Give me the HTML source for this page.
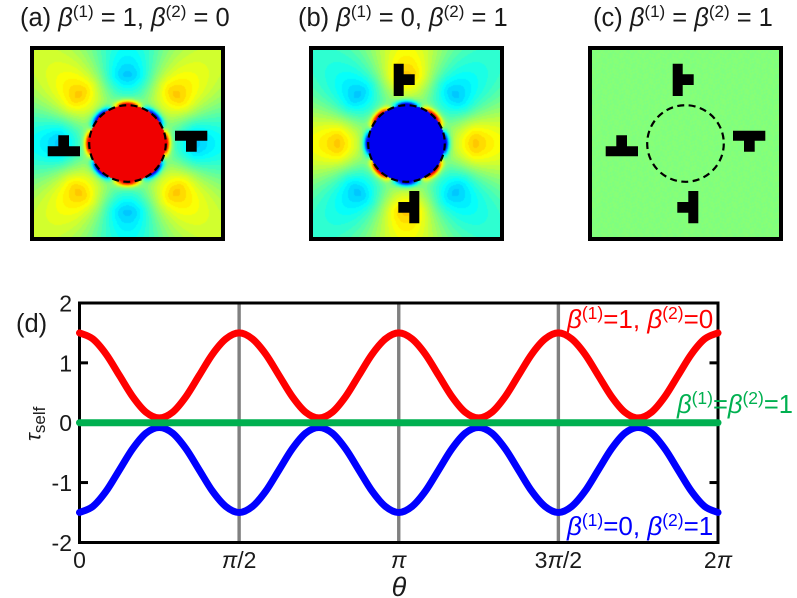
<!DOCTYPE html>
<html lang="en">
<head>
<meta charset="utf-8">
<title>Self torque panels</title>
<style>
html,body{margin:0;padding:0;background:#fff;width:797px;height:598px;overflow:hidden}
#figure{position:relative;width:797px;height:598px;font-family:"Liberation Sans",sans-serif}
canvas{position:absolute;display:block}
svg{position:absolute;left:0;top:0}
text{font-family:"Liberation Sans",sans-serif;fill:#1a1a1a;white-space:pre}
.i{font-style:italic}
</style>
</head>
<body>
<div id="figure">
<canvas id="field-a" width="187" height="187" style="left:34px;top:50px"></canvas>
<canvas id="field-b" width="187" height="187" style="left:313px;top:50px"></canvas>
<canvas id="field-c" width="187" height="187" style="left:592px;top:50px"></canvas>
<svg id="overlay" width="797" height="598" viewBox="0 0 797 598">
  <g font-size="25.5">
    <text x="20" y="26">(a) <tspan class="i">β</tspan><tspan font-size="17" dy="-9">(1)</tspan><tspan dy="9"> = 1, </tspan><tspan class="i">β</tspan><tspan font-size="17" dy="-9">(2)</tspan><tspan dy="9"> = 0</tspan></text>
    <text x="298" y="26">(b) <tspan class="i">β</tspan><tspan font-size="17" dy="-9">(1)</tspan><tspan dy="9"> = 0, </tspan><tspan class="i">β</tspan><tspan font-size="17" dy="-9">(2)</tspan><tspan dy="9"> = 1</tspan></text>
    <text x="593" y="26">(c) <tspan class="i">β</tspan><tspan font-size="17" dy="-9">(1)</tspan><tspan dy="9"> = </tspan><tspan class="i">β</tspan><tspan font-size="17" dy="-9">(2)</tspan><tspan dy="9"> = 1</tspan></text>
  </g>
  <g id="panel-marks"></g>
  <g id="grid-lines"></g>
  <rect x="79.5" y="303" width="638.5" height="239.5" fill="none" stroke="#000" stroke-width="3"></rect>
  <g id="series"></g>
  <g id="ticks"></g>
  <g id="tick-labels" font-size="23"></g>
  <text x="16" y="332" font-size="25.5">(d)</text>
  <text x="399" y="596" font-size="27" text-anchor="middle" class="i">θ</text>
  <text transform="translate(40.5,441) rotate(-90)" font-size="21"><tspan class="i">τ</tspan><tspan font-size="17" dy="4.5">self</tspan></text>
  <text x="567" y="328" font-size="26" style="fill:#ff0000"><tspan class="i">β</tspan><tspan font-size="17.5" dy="-9">(1)</tspan><tspan dy="9">=1, </tspan><tspan class="i">β</tspan><tspan font-size="17.5" dy="-9">(2)</tspan><tspan dy="9">=0</tspan></text>
  <text x="677" y="413" font-size="25.5" style="fill:#00b050"><tspan class="i">β</tspan><tspan font-size="17.5" dy="-9">(1)</tspan><tspan dy="9">=</tspan><tspan class="i">β</tspan><tspan font-size="17.5" dy="-9">(2)</tspan><tspan dy="9">=1</tspan></text>
  <text x="567" y="535" font-size="26" style="fill:#0000ff"><tspan class="i">β</tspan><tspan font-size="17.5" dy="-9">(1)</tspan><tspan dy="9">=0, </tspan><tspan class="i">β</tspan><tspan font-size="17.5" dy="-9">(2)</tspan><tspan dy="9">=1</tspan></text>
</svg>
</div>
<script>
// --- line chart data ---
const thetaDegrees = [0,7.5,15,22.5,30,37.5,45,52.5,60,67.5,75,82.5,90,97.5,105,112.5,120,127.5,135,142.5,150,157.5,165,172.5,180,187.5,195,202.5,210,217.5,225,232.5,240,247.5,255,262.5,270,277.5,285,292.5,300,307.5,315,322.5,330,337.5,345,352.5,360];
const tauRed = [1.5,1.4,1.145,0.79,0.435,0.175,0.08,0.175,0.435,0.79,1.145,1.4,1.5,1.4,1.145,0.79,0.435,0.175,0.08,0.175,0.435,0.79,1.145,1.4,1.5,1.4,1.145,0.79,0.435,0.175,0.08,0.175,0.435,0.79,1.145,1.4,1.5,1.4,1.145,0.79,0.435,0.175,0.08,0.175,0.435,0.79,1.145,1.4,1.5];
const tauBlue = [-1.5,-1.4,-1.145,-0.79,-0.435,-0.175,-0.08,-0.175,-0.435,-0.79,-1.145,-1.4,-1.5,-1.4,-1.145,-0.79,-0.435,-0.175,-0.08,-0.175,-0.435,-0.79,-1.145,-1.4,-1.5,-1.4,-1.145,-0.79,-0.435,-0.175,-0.08,-0.175,-0.435,-0.79,-1.145,-1.4,-1.5,-1.4,-1.145,-0.79,-0.435,-0.175,-0.08,-0.175,-0.435,-0.79,-1.145,-1.4,-1.5];
const tauGreen = [0,0,0,0,0,0,0,0,0,0,0,0,0,0,0,0,0,0,0,0,0,0,0,0,0,0,0,0,0,0,0,0,0,0,0,0,0,0,0,0,0,0,0,0,0,0,0,0,0];
const yTickValues = [2,1,0,-1,-2];
const yTickLabels = ["2","1","0","-1","-2"];
const xTickDegrees = [0,90,180,270,360];
const xTickLabels = ["0","π/2","π","3π/2","2π"];

// --- field map data ---
const fieldRadius = [38,40,41.5,43,45,48,52,56,60,64,68,72,80,90,100,115,137,150];
const fieldProfile = [-0.45,-0.36,-0.22,-0.1,0.0,0.055,0.09,0.115,0.14,0.16,0.175,0.172,0.15,0.125,0.105,0.085,0.065,0.055];
const panelSigns = [1,-1,0];
const panelIds = ["field-a","field-b","field-c"];
const panelCentersX = [127.5,406.5,685.5];
const coreValue = 0.39;

const SVGNS = "http://www.w3.org/2000/svg";
const xOf = function (deg) { return 79.5 + deg / 360 * 638.5; };
const yOf = function (v) { return 422.7 - v * 59.85; };

function jet(v) {
  v = Math.max(0, Math.min(1, v));
  const f = function (x) { return Math.max(0, Math.min(1, x)); };
  return [f(Math.min(4 * v - 1.5, 4.5 - 4 * v)), f(Math.min(4 * v - 0.5, 3.5 - 4 * v)), f(Math.min(4 * v + 0.5, 2.5 - 4 * v))];
}
function profileAt(r) {
  const last = fieldRadius.length - 1;
  for (let i = 1; i <= last; i++) {
    if (r <= fieldRadius[i]) {
      const r0 = fieldRadius[i - 1], r1 = fieldRadius[i];
      const g0 = fieldProfile[i - 1], g1 = fieldProfile[i];
      const h = r1 - r0, t = (r - r0) / h;
      const im = Math.max(0, i - 2), ip = Math.min(last, i + 1);
      const m0 = (g1 - fieldProfile[im]) / (r1 - fieldRadius[im]);
      const m1 = (fieldProfile[ip] - g0) / (fieldRadius[ip] - r0);
      const t2 = t * t, t3 = t2 * t;
      return (2 * t3 - 3 * t2 + 1) * g0 + (t3 - 2 * t2 + t) * h * m0 + (-2 * t3 + 3 * t2) * g1 + (t3 - t2) * h * m1;
    }
  }
  return fieldProfile[last];
}
panelIds.forEach(function (id, p) {
  const cv = document.getElementById(id);
  const ctx = cv.getContext("2d");
  const img = ctx.createImageData(187, 187);
  const sign = panelSigns[p];
  for (let y = 0; y < 187; y++) {
    for (let x = 0; x < 187; x++) {
      const dx = x - 93, dy = y - 93;
      const r = Math.sqrt(dx * dx + dy * dy);
      let u;
      if (r < 38.3) {
        u = coreValue;
      } else {
        u = -Math.cos(4 * Math.atan2(dy, dx)) * profileAt(r);
        u = Math.round(u / 0.02) * 0.02;
      }
      let v = 0.5 + sign * u;
      if (sign === 0) {
        v = 0.504 + 0.009 * Math.sin(x * 1.37 + 2 * Math.sin(y * 0.61)) * Math.cos(y * 1.13 + 2 * Math.sin(x * 0.53));
      }
      const c = jet(v);
      const k = (y * 187 + x) * 4;
      img.data[k] = c[0] * 255;
      img.data[k + 1] = c[1] * 255;
      img.data[k + 2] = c[2] * 255;
      img.data[k + 3] = 255;
    }
  }
  ctx.putImageData(img, 0, 0);
});

// panel frames, circles and T-shaped marks
const marks = document.getElementById("panel-marks");
const tee = "M47.5 -12.8H79.8V-2.8H69.2V8.2H58.5V-2.8H47.5Z";
panelCentersX.forEach(function (cx) {
  const frame = document.createElementNS(SVGNS, "rect");
  
  
  frame.setAttribute("x", cx - 95.5);
  frame.setAttribute("y", 48);
  frame.setAttribute("width", 191);
  frame.setAttribute("height", 191);
  frame.setAttribute("fill", "none");
  frame.setAttribute("stroke", "#000");
  frame.setAttribute("stroke-width", "4");
  marks.appendChild(frame);
  const circle = document.createElementNS(SVGNS, "circle");
  
  
  circle.setAttribute("cx", cx);
  circle.setAttribute("cy", 143.5);
  circle.setAttribute("r", 38.3);
  circle.setAttribute("fill", "none");
  circle.setAttribute("stroke", "#000");
  circle.setAttribute("stroke-width", "2.2");
  circle.setAttribute("stroke-dasharray", "7 4.46");
  marks.appendChild(circle);
});
const teePlacements = [[0,0],[0,180],[1,-90],[1,90],[2,0],[2,90],[2,180],[2,-90]];
teePlacements.forEach(function (tp) {
  const t = document.createElementNS(SVGNS, "path");
  
  
  t.setAttribute("d", tee);
  t.setAttribute("fill", "#000");
  t.setAttribute("transform", "translate(" + panelCentersX[tp[0]] + ",143.5) rotate(" + tp[1] + ")");
  marks.appendChild(t);
});

// grid lines
const grid = document.getElementById("grid-lines");
xTickDegrees.slice(1, -1).forEach(function (d) {
  const l = document.createElementNS(SVGNS, "line");
  
  
  l.setAttribute("x1", xOf(d));
  l.setAttribute("x2", xOf(d));
  l.setAttribute("y1", yOf(2));
  l.setAttribute("y2", yOf(-2));
  l.setAttribute("stroke", "#808080");
  l.setAttribute("stroke-width", "3.4");
  grid.appendChild(l);
});

// series
function curvePath(values) {
  const pts = values.map(function (v, i) { return [xOf(thetaDegrees[i]), yOf(v)]; });
  let d = "M" + pts[0][0].toFixed(2) + " " + pts[0][1].toFixed(2);
  for (let i = 0; i < pts.length - 1; i++) {
    const p0 = pts[Math.max(0, i - 1)], p1 = pts[i], p2 = pts[i + 1], p3 = pts[Math.min(pts.length - 1, i + 2)];
    d += "C" + (p1[0] + (p2[0] - p0[0]) / 6).toFixed(2) + " " + (p1[1] + (p2[1] - p0[1]) / 6).toFixed(2) + " " +
      (p2[0] - (p3[0] - p1[0]) / 6).toFixed(2) + " " + (p2[1] - (p3[1] - p1[1]) / 6).toFixed(2) + " " +
      p2[0].toFixed(2) + " " + p2[1].toFixed(2);
  }
  return d;
}
const seriesGroup = document.getElementById("series");
const redLine = document.createElementNS(SVGNS, "path");


redLine.setAttribute("d", curvePath(tauRed));
redLine.setAttribute("stroke", "#ff0000");
const blueLine = document.createElementNS(SVGNS, "path");


blueLine.setAttribute("d", curvePath(tauBlue));
blueLine.setAttribute("stroke", "#0000ff");
const greenLine = document.createElementNS(SVGNS, "path");


greenLine.setAttribute("d", curvePath(tauGreen));
greenLine.setAttribute("stroke", "#00b050");
[redLine, blueLine, greenLine].forEach(function (el) {
  el.setAttribute("fill", "none");
  el.setAttribute("stroke-width", "7");
  el.setAttribute("stroke-linecap", "round");
  el.setAttribute("stroke-linejoin", "round");
  seriesGroup.appendChild(el);
});

// ticks and labels
const ticks = document.getElementById("ticks");
const labels = document.getElementById("tick-labels");
yTickValues.forEach(function (v, i) {
  if (Math.abs(v) === 1) {
    [[79.5, 88], [718, 709.5]].forEach(function (xs) {
      const t = document.createElementNS(SVGNS, "line");
      
      
      t.setAttribute("x1", xs[0]);
      t.setAttribute("x2", xs[1]);
      t.setAttribute("y1", yOf(v));
      t.setAttribute("y2", yOf(v));
      t.setAttribute("stroke", "#000");
      t.setAttribute("stroke-width", "3");
      ticks.appendChild(t);
    });
  }
  const txt = document.createElementNS(SVGNS, "text");
  
  
  txt.setAttribute("x", 72);
  txt.setAttribute("y", yOf(v) + 8.5);
  txt.setAttribute("text-anchor", "end");
  txt.textContent = yTickLabels[i];
  labels.appendChild(txt);
});
xTickDegrees.forEach(function (d, i) {
  const txt = document.createElementNS(SVGNS, "text");
  
  
  txt.setAttribute("x", xOf(d));
  txt.setAttribute("y", 568);
  txt.setAttribute("text-anchor", "middle");
  xTickLabels[i].split(/(π)/).forEach(function (part) {
    if (!part) return;
    const sp = document.createElementNS(SVGNS, "tspan");
    if (part === "π") sp.setAttribute("class", "i");
    sp.textContent = part;
    txt.appendChild(sp);
  });
  labels.appendChild(txt);
});
</script>
</body>
</html>
